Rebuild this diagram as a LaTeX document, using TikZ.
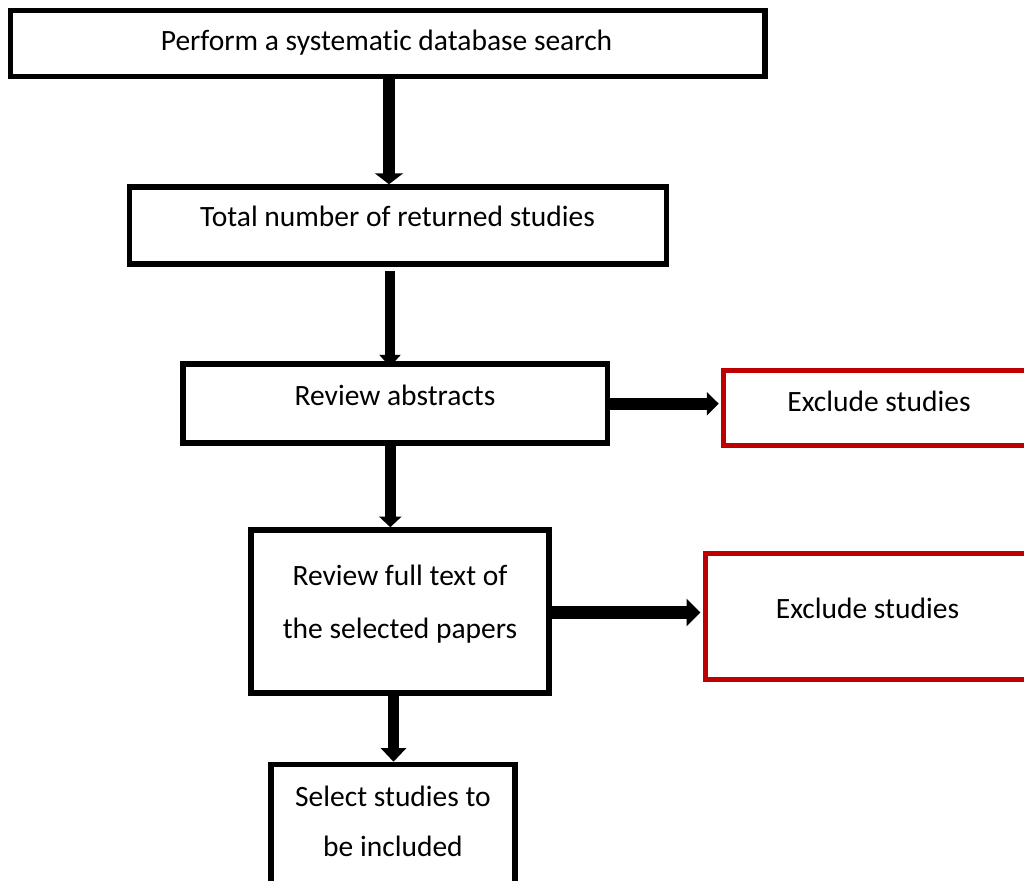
\documentclass[tikz,border=0pt]{standalone}
\usepackage{fontspec}
\setmainfont{Carlito}[Ligatures=CommonOff]
\usetikzlibrary{arrows.meta}
\definecolor{exred}{HTML}{C00000}
\tikzset{
  box/.style={draw=black, line width=5.5pt, fill=white, inner sep=0pt},
  redbox/.style={draw=exred, line width=5pt, fill=white, inner sep=0pt},
  lbl/.style={inner sep=0pt, anchor=base, font=\fontsize{29.5}{36}\selectfont},
  flow/.style={draw=black, line cap=butt},
}
\begin{document}
\begin{tikzpicture}[x=1pt, y=-1pt]
\useasboundingbox (0,0) rectangle (1024,880);
\clip (0,0) rectangle (1024,880);
\fill[white] (0,0) rectangle (1024,880);

% boxes of the flow
\node[box, minimum width=754.3pt, minimum height=66.4pt] (b1) at (387.85,43.5) {};
\node[box, minimum width=537pt, minimum height=77pt] (b2) at (398,225.5) {};
\node[box, minimum width=424.5pt, minimum height=79pt] (b3) at (395.25,403.5) {};
\node[box, minimum width=298pt, minimum height=163pt] (b4) at (400,611.5) {};
\node[box, minimum width=244pt, minimum height=150pt] (b5) at (393,839.5) {};
\node[redbox, minimum width=311pt, minimum height=75pt] (r1) at (878.75,408) {};
\node[redbox, minimum width=325pt, minimum height=126pt] (r2) at (867.5,616.5) {};

% texts
\node[lbl] (t1) at (386.5,51) {Perform a systematic database search};
\node[lbl] (t2) at (397.5,226.7) {Total number of returned studies};
\node[lbl] (t3) at (395,405.5) {Review abstracts};
\node[lbl] (t4a) at (400,585) {Review full text of};
\node[lbl] (t4b) at (400,638.3) {the selected papers};
\node[lbl] (t5a) at (393,806) {Select studies to};
\node[lbl] (t5b) at (393,856.7) {be included};
\node[lbl] (tr1) at (879,411) {Exclude studies};
\node[lbl] (tr2) at (867.5,618.3) {Exclude studies};

% connectors
\draw[flow, line width=12pt, -{Triangle[length=11pt,width=28pt]}]
  (389,0 |- b1.south) -- (389,0 |- b2.north);
\draw[flow, line width=10pt, -{Triangle[length=12pt,width=21pt]}]
  ([yshift=-4pt]390,0 |- b2.south) -- ([yshift=-5.5pt]390,0 |- b3.north);
\draw[flow, line width=10.7pt, -{Triangle[length=10.7pt,width=22pt]}]
  (390.3,0 |- b3.south) -- (390.3,0 |- b4.north);
\draw[flow, line width=11pt, -{Triangle[length=13.7pt,width=25pt]}]
  ([yshift=5pt]393.5,0 |- b4.south) -- (393.5,0 |- b5.north);
\draw[flow, line width=12pt, -{Triangle[length=12pt,width=23pt]}]
  (b3.east |- 0,403.7) -- ([xshift=-2pt]r1.west |- 0,403.7);
\draw[flow, line width=13pt, -{Triangle[length=14pt,width=27pt]}]
  (b4.east |- 0,612.5) -- ([xshift=-2pt]r2.west |- 0,612.5);
\end{tikzpicture}
\end{document}
